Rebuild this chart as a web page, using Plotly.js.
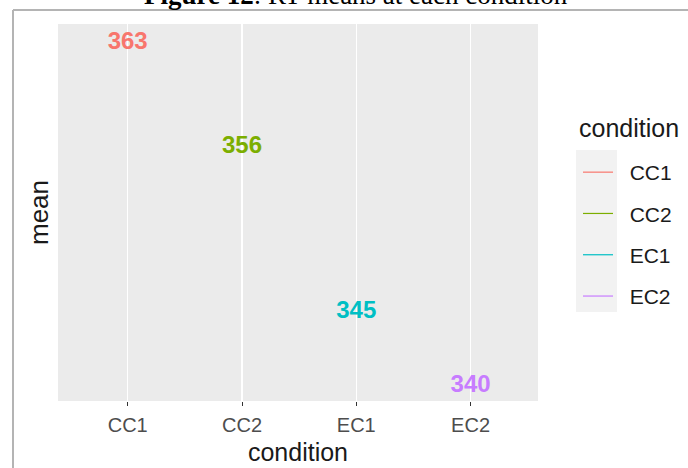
<!DOCTYPE html>
<html>
<head>
<meta charset="utf-8">
<script src="https://cdn.plot.ly/plotly-3.0.1.min.js"></script>
<style>
  html, body { margin: 0; padding: 0; background: #ffffff; }
  #chart { width: 688px; height: 468px; }
</style>
</head>
<body>
<div id="chart"></div>
<script>
// RT means per experimental condition
const conditions = ['CC1', 'CC2', 'EC1', 'EC2'];
const meanRT = [363, 356, 345, 340];
const labels = ['363', '356', '345', '340'];
const palette = ['#F8766D', '#7CAE00', '#00BFC4', '#C77CFF'];

const sans = 'Liberation Sans, Arial, sans-serif';
const keyPad = '\u00a0\u00a0'; // extra space between legend key and its label

const traces = [];
conditions.forEach((c, i) => {
  // value label at each condition mean
  traces.push({
    type: 'scatter',
    mode: 'text',
    x: [c],
    y: [meanRT[i]],
    text: [labels[i]],
    textposition: 'middle center',
    textfont: { family: sans, size: 24, color: palette[i], weight: 'bold' },
    showlegend: false,
    hoverinfo: 'x+y'
  });
  // legend key for the condition
  traces.push({
    type: 'scatter',
    mode: 'lines',
    x: [null],
    y: [null],
    name: keyPad + c,
    legendgroup: c,
    line: { color: palette[i], width: 1.2 },
    showlegend: true
  });
});

// page geometry helpers (plot area: 58..538 x, 24..401 y)
const W = 688, H = 468;
const L = 58, R = 538, T = 24, B = 401;
const px = v => (v - L) / (R - L);
const py = v => (B - v) / (B - T);

const layout = {
  width: W,
  height: H,
  margin: { l: L, r: W - R, t: T, b: H - B, pad: 0 },
  paper_bgcolor: '#ffffff',
  plot_bgcolor: '#EBEBEB',
  font: { family: sans, color: '#1a1a1a' },
  showlegend: true,
  xaxis: {
    type: 'category',
    categoryorder: 'array',
    categoryarray: conditions,
    range: [-0.61, 3.59],
    showgrid: true,
    gridcolor: '#ffffff',
    gridwidth: 1.5,
    zeroline: false,
    showline: false,
    ticks: 'outside',
    ticklen: 4,
    tickwidth: 1,
    tickcolor: '#333333',
    ticklabelstandoff: 2,
    tickfont: { family: sans, size: 20, color: '#4D4D4D' },
    title: { text: 'condition', font: { family: sans, size: 25, color: '#1a1a1a' }, standoff: 8 },
    fixedrange: true
  },
  yaxis: {
    range: [339.03, 364.24],
    showgrid: false,
    zeroline: false,
    showline: false,
    showticklabels: false,
    ticks: '',
    title: { text: 'mean', font: { family: sans, size: 26, color: '#1a1a1a' }, standoff: 0 },
    fixedrange: true
  },
  legend: {
    xref: 'container',
    yref: 'container',
    x: 578 / W,
    y: 1 - 152 / H,
    xanchor: 'left',
    yanchor: 'top',
    bgcolor: 'rgba(0,0,0,0)',
    borderwidth: 0,
    itemwidth: 30,
    traceorder: 'grouped',
    tracegroupgap: 11,
    font: { family: sans, size: 21, color: '#1a1a1a' }
  },
  shapes: [
    // legend key panel
    { type: 'rect', xref: 'paper', yref: 'paper', layer: 'below',
      x0: px(576), x1: px(617), y0: py(312), y1: py(150),
      fillcolor: '#F2F2F2', line: { width: 0 } },
    // frame around the figure
    { type: 'line', xref: 'paper', yref: 'paper',
      x0: px(13), x1: px(688), y0: py(10), y1: py(10),
      line: { color: '#B4B4B4', width: 2 } },
    { type: 'line', xref: 'paper', yref: 'paper',
      x0: px(13), x1: px(13), y0: py(10), y1: py(470),
      line: { color: '#B4B4B4', width: 2 } }
  ],
  annotations: [
    // figure caption
    { xref: 'paper', yref: 'paper', x: px(356), y: py(12),
      xanchor: 'center', yanchor: 'bottom', showarrow: false,
      text: '<b>Figure 12</b>: RT means at each condition',
      font: { family: 'Liberation Serif, Times New Roman, serif', size: 27, color: '#000000' } },
    // legend heading
    { xref: 'paper', yref: 'paper', x: px(577), y: py(128),
      xanchor: 'left', yanchor: 'middle', showarrow: false,
      text: 'condition',
      font: { family: sans, size: 25, color: '#1a1a1a' } }
  ]
};

Plotly.newPlot('chart', traces, layout, { displayModeBar: false, staticPlot: true });
</script>
</body>
</html>
